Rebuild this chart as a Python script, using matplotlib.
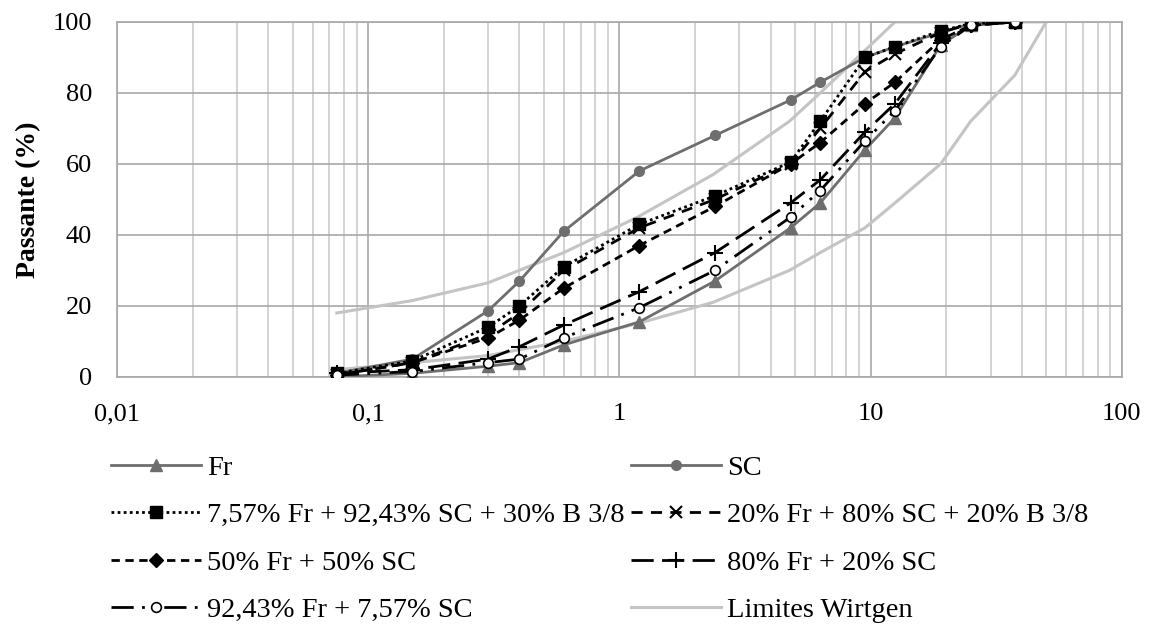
import matplotlib
matplotlib.use("Agg")
import matplotlib.pyplot as plt
from matplotlib.ticker import FixedLocator, FuncFormatter, LogLocator, NullFormatter

plt.rcParams["font.family"] = ["Liberation Serif", "DejaVu Serif"]

# sieve openings (mm)
sieves = [0.075, 0.15, 0.3, 0.4, 0.6, 1.2, 2.4, 4.8, 6.3, 9.5, 12.5, 19, 25, 37.5]

# percent passing for each mix
fr = [0, 1, 3, 4, 9, 15.5, 27, 42, 49, 64, 73, 93.5, 99, 100]
sc = [1, 5, 18.6, 27, 41, 58, 68, 78, 83, 90, 93, 97, 99.5, 100]
mix_757 = [1, 4.5, 14, 20, 31, 43, 51, 60.5, 72, 90, 93, 97.5, 99.5, 100]
mix_20_80 = [0.5, 4, 12, 18, 30, 42, 50, 60, 70, 86, 91, 97, 99.5, 100]
mix_50_50 = [0.5, 4, 11, 16, 25, 37, 48, 60, 66, 77, 83, 95, 99, 100]
mix_80_20 = [1, 2, 5, 8.5, 14.6, 24, 35, 49, 55.5, 69, 77, 94, 99, 100]
mix_9243 = [0.5, 1.5, 4, 5, 11, 19.5, 30, 45, 52.5, 66.5, 75, 93, 99, 100]

# Wirtgen grading envelope
lim_sieves = [0.075, 0.15, 0.3, 0.6, 1.18, 2.36, 4.75, 6.3, 9.5, 12.5, 19, 25, 37.5, 50]
lim_upper = [18, 21.5, 26.5, 35, 45, 57, 72, 80, 92, 100, 100, 100, 100, 100]
lim_lower = [2, 4, 6, 10, 15, 21, 30, 35, 42, 49, 60, 72, 85, 100]

labels = [
    "Fr",
    "SC",
    "7,57% Fr + 92,43% SC + 30% B 3/8",
    "20% Fr + 80% SC + 20% B 3/8",
    "50% Fr + 50% SC",
    "80% Fr + 20% SC",
    "92,43% Fr + 7,57% SC",
    "Limites Wirtgen",
]

fig = plt.figure(figsize=(11.53, 6.26), dpi=100)
ax = fig.add_axes([0.1015, 0.398, 0.8715, 0.567])

lw = 2.0
h_fr, = ax.plot(sieves, fr, color="#6e6e6e", lw=lw, marker="^", ms=9, zorder=3)
h_sc, = ax.plot(sieves, sc, color="#6e6e6e", lw=lw, marker="o", ms=7, zorder=3)
h_757, = ax.plot(sieves, mix_757, color="black", lw=lw, ls=(0, (1, 1.2)),
                 marker="s", ms=9, zorder=4)
h_2080, = ax.plot(sieves, mix_20_80, color="black", lw=lw, ls=(0, (4, 3)),
                  marker="x", ms=9, mew=1.5, zorder=4)
h_5050, = ax.plot(sieves, mix_50_50, color="black", lw=lw, ls=(0, (3, 2)),
                  marker="D", ms=7, zorder=4)
h_8020, = ax.plot(sieves, mix_80_20, color="black", lw=lw, ls=(0, (8, 3)),
                  marker="+", ms=11, mew=1.5, zorder=4)
h_9243, = ax.plot(sieves, mix_9243, color="black", lw=lw, ls=(0, (8, 3, 1, 3, 1, 3)),
                  marker="o", ms=7, mfc="white", mew=1.2, zorder=4)
h_lim, = ax.plot(lim_sieves, lim_upper, color="#c4c4c4", lw=2.2, zorder=2)
ax.plot(lim_sieves, lim_lower, color="#c4c4c4", lw=2.2, zorder=2)

# axes
ax.set_xscale("log")
ax.set_xlim(0.01, 100)
ax.set_ylim(0, 100)
ax.set_yticks([0, 20, 40, 60, 80, 100])
ax.xaxis.set_major_locator(FixedLocator([0.01, 0.1, 1, 10, 100]))
ax.xaxis.set_minor_locator(LogLocator(base=10, subs=range(2, 10)))
ax.xaxis.set_minor_formatter(NullFormatter())
ax.xaxis.set_major_formatter(FuncFormatter(lambda v, p: ("%g" % v).replace(".", ",")))
ax.tick_params(axis="both", which="both", length=0, labelsize=19)
ax.tick_params(axis="y", pad=18)
ax.tick_params(axis="x", pad=19)
ax.set_ylabel("Passante (%)", fontsize=20, fontweight="bold", labelpad=8)

ax.grid(True, which="major", axis="both", color="#a8a8a8", lw=1.2, zorder=0)
ax.grid(True, which="minor", axis="x", color="#cccccc", lw=1.2, zorder=0)
for s in ax.spines.values():
    s.set_color("#a8a8a8")
    s.set_linewidth(1.2)

# legend, row order as in the reference
handles = [h_fr, h_757, h_5050, h_9243, h_sc, h_2080, h_8020, h_lim]
order = [0, 2, 4, 6, 1, 3, 5, 7]
fig.legend(handles, [labels[i] for i in order], ncol=2, loc="upper left",
           bbox_to_anchor=(0.0867, 0.292), frameon=False, fontsize=20.5,
           handlelength=3.15, handletextpad=0.2, columnspacing=0.25,
           labelspacing=0.76, borderaxespad=0)

fig.savefig("out.png", dpi=100)
